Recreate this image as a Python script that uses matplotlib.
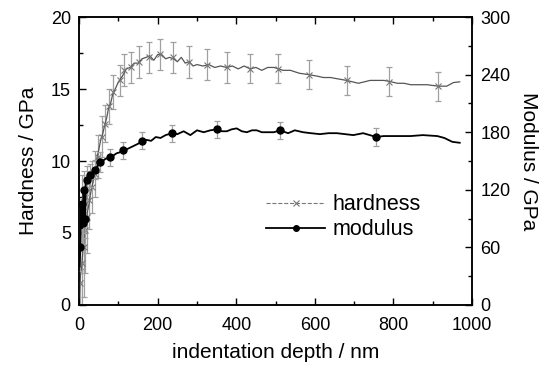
import matplotlib
matplotlib.use("Agg")
import matplotlib.pyplot as plt
from matplotlib.lines import Line2D
from matplotlib.ticker import MultipleLocator

plt.rcParams['font.family'] = ['Liberation Sans', 'DejaVu Sans']

# --- dados ---
# curva de dureza (GPa) x profundidade (nm)
prof_h = [0, 3, 6, 9, 12, 15, 18, 21, 25, 30, 35, 40, 45, 50, 55, 60, 65, 70, 75, 80,
          85, 90, 95, 100, 110, 120, 130, 140, 150, 160, 170, 180, 190, 200, 210, 220,
          230, 240, 250, 260, 270, 280, 290, 300, 315, 330, 345, 360, 375, 390, 405,
          420, 435, 450, 465, 480, 496, 519, 538, 560, 585, 605, 622, 640, 660, 681,
          696, 711, 726, 741, 776, 795, 810, 827, 844, 865, 886, 914, 936, 953, 969]
dureza = [0.5, 2.0, 2.6, 3.6, 4.6, 5.0, 5.8, 6.5, 7.0, 7.9, 8.5, 9.2, 10.2, 10.8, 11.5,
          11.9, 12.5, 13.0, 13.7, 14.0, 14.6, 14.9, 15.2, 15.5, 15.9, 16.4, 16.5, 16.8,
          16.8, 17.1, 17.2, 17.3, 17.0, 17.4, 17.4, 17.1, 17.2, 17.1, 16.9, 17.2, 16.8,
          16.9, 16.6, 16.7, 16.6, 16.7, 16.5, 16.6, 16.5, 16.6, 16.4, 16.6, 16.4, 16.5,
          16.3, 16.5, 16.5, 16.3, 16.3, 16.1, 16.0, 15.9, 15.8, 15.8, 15.7, 15.6, 15.5,
          15.4, 15.5, 15.6, 15.6, 15.5, 15.4, 15.4, 15.3, 15.3, 15.3, 15.2, 15.2, 15.45, 15.5]

# marcadores da dureza com barras de erro
prof_hm = [3, 7, 11, 15, 20, 26, 32, 41, 49, 58, 66, 77, 87, 103, 115, 131, 153, 177,
           206, 239, 280, 325, 376, 435, 505, 585, 681, 790, 914]
dureza_m = [1.5, 2.9, 4.05, 5.2, 6.1, 7.3, 8.2, 9.1, 10.3, 11.7, 12.6, 13.8, 14.8, 15.6,
            16.3, 16.5, 16.9, 17.2, 17.4, 17.2, 16.9, 16.7, 16.5, 16.4, 16.4, 16.0, 15.6,
            15.5, 15.2]
erro_h = [3.5, 4.0, 3.5, 3.0, 2.5, 2.0, 1.8, 1.6, 1.5, 1.4, 1.3, 1.2, 1.2, 1.1, 1.1, 1.1,
          1.1, 1.1, 1.1, 1.1, 1.1, 1.1, 1.1, 1.0, 1.0, 1.0, 1.0, 1.0, 1.0]

# curva do módulo (GPa) x profundidade (nm)
prof_m = [1, 3, 5, 7, 9, 11, 13, 15, 17, 20, 24, 28, 34, 41, 47, 53, 60, 66, 72, 79, 88,
          95, 103, 111, 120, 130, 140, 150, 161, 172, 183, 195, 207, 220, 237, 250, 266,
          283, 300, 317, 334, 350, 363, 376, 388, 401, 414, 427, 440, 452, 465, 478, 496,
          511, 532, 549, 570, 590, 613, 635, 656, 677, 698, 723, 740, 756, 775, 791, 815,
          844, 875, 912, 930, 950, 969]
modulo = [40, 60, 105, 80, 85, 120, 95, 90, 128, 130, 133, 135, 138, 141, 145, 149, 150,
          152, 153, 154, 156, 158, 159, 161, 162, 164, 166, 168, 171, 172, 171, 175, 174,
          177, 179, 178, 181, 177, 182, 180, 182, 183, 181, 181, 183, 184, 181, 180, 182,
          182, 180, 180, 180, 182, 179, 182, 180, 179, 178, 179, 179, 178, 177, 179, 177,
          175, 176, 176, 176, 176, 177, 176, 174, 170, 169]

# marcadores do módulo com barras de erro
prof_mm = [3, 6, 9, 12, 16, 20, 28, 41, 53, 79, 111, 161, 237, 350, 511, 756]
modulo_m = [60, 105, 85, 120, 90, 130, 135, 141, 149, 154, 161, 171, 179, 183, 182, 175]
erro_m = [25, 30, 25, 20, 20, 15, 12, 10, 10, 9, 9, 9, 9, 9, 9, 9]

cor_h = '#555555'
cor_erro = '#a0a0a0'

fig, ax = plt.subplots(figsize=(5.5, 3.71), dpi=100)
fig.subplots_adjust(left=0.144, right=0.858, bottom=0.178, top=0.954)
ax2 = ax.twinx()

# dureza
ax.errorbar(prof_hm, dureza_m, yerr=erro_h, fmt='none', ecolor=cor_erro,
            elinewidth=0.9, capsize=2.5, capthick=0.9, zorder=2)
ax.plot(prof_h, dureza, color=cor_h, lw=0.9, zorder=3)
ax.plot(prof_hm, dureza_m, ls='none', marker='x', ms=5, mew=0.8, color='#777777', zorder=4)

# módulo
ax2.errorbar(prof_mm, modulo_m, yerr=erro_m, fmt='none', ecolor=cor_erro,
             elinewidth=0.9, capsize=2.5, capthick=0.9, zorder=2)
ax2.plot(prof_m, modulo, color='black', lw=1.3, zorder=3)
ax2.plot(prof_mm, modulo_m, ls='none', marker='o', ms=5, color='black', zorder=4)

ax.set_xlim(0, 1000)
ax.set_ylim(0, 20)
ax2.set_ylim(0, 300)

ax.xaxis.set_major_locator(MultipleLocator(200))
ax.xaxis.set_minor_locator(MultipleLocator(100))
ax.yaxis.set_major_locator(MultipleLocator(5))
ax.yaxis.set_minor_locator(MultipleLocator(2.5))
ax2.yaxis.set_major_locator(MultipleLocator(60))
ax2.yaxis.set_minor_locator(MultipleLocator(30))

ax.tick_params(axis='x', which='both', direction='in', top=True, labelsize=13, pad=9)
ax.tick_params(axis='y', which='both', direction='in', right=False, labelsize=13, pad=6)
ax2.tick_params(axis='y', which='both', direction='in', labelsize=13, pad=6)
for a in (ax, ax2):
    a.tick_params(which='major', length=5, width=1)
    a.tick_params(which='minor', length=3, width=1)
    for s in a.spines.values():
        s.set_linewidth(1.1)

ax.set_xlabel('indentation depth / nm', fontsize=15, labelpad=6)
ax.set_ylabel('Hardness / GPa', fontsize=15, labelpad=9)
ax2.set_ylabel('Modulus / GPa', fontsize=15, rotation=270, labelpad=20)

handles = [
    Line2D([], [], color='#777777', ls='--', lw=0.8, marker='x', ms=5, mew=0.8),
    Line2D([], [], color='black', lw=1.3, marker='o', ms=4),
]
ax2.legend(handles, ['hardness', 'modulus'], loc='upper left',
           bbox_to_anchor=(0.455, 0.415), frameon=False, fontsize=15.5,
           handlelength=2.7, handletextpad=0.35, labelspacing=0.2, borderaxespad=0)

fig.savefig('out.png', dpi=100)
